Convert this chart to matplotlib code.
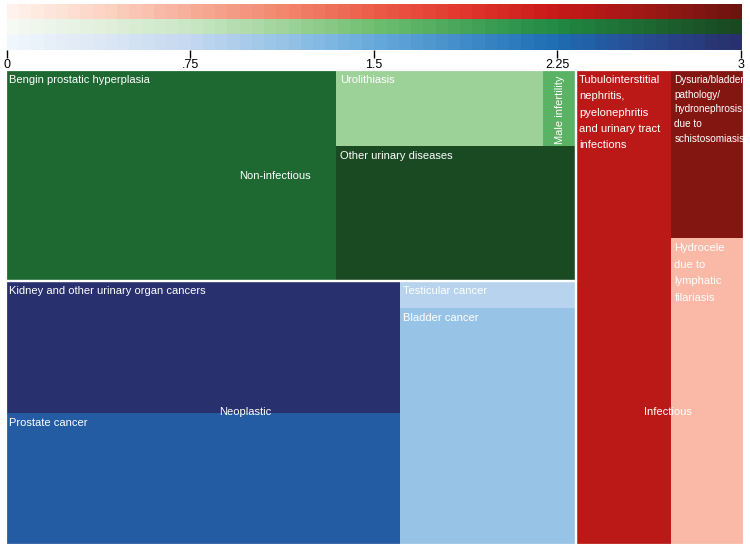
import numpy as np
import matplotlib
matplotlib.use('Agg')
import matplotlib.pyplot as plt
from matplotlib.patches import Rectangle
from matplotlib.colors import LinearSegmentedColormap

plt.rcParams['font.family'] = ['Liberation Sans Narrow', 'Liberation Sans', 'DejaVu Sans']

# leaf causes (share of burden) and colour value on the 0-3 scale
labels = ['Bengin prostatic hyperplasia', 'Urolithiasis', 'Male infertility',
          'Other urinary diseases', 'Kidney and other urinary organ cancers',
          'Prostate cancer', 'Testicular cancer', 'Bladder cancer',
          'Tubulointerstitial\nnephritis,\npyelonephritis\nand urinary tract\ninfections',
          'Dysuria/bladder\npathology/\nhydronephrosis\ndue to\nschistosomiasis',
          'Hydrocele\ndue to\nlymphatic\nfilariasis']
values = [19.9, 4.5, 0.7, 9.2, 14.8, 14.8, 1.35, 11.9, 12.9, 3.5, 6.4]
scale_vals = [2.63, 1.15, 1.69, 2.97, 3.0, 2.44, 0.85, 1.12, 2.37, 2.83, 0.63]
group_of = [0, 0, 0, 0, 1, 1, 1, 1, 2, 2, 2]

group_names = ['Non-infectious', 'Neoplastic', 'Infectious']
group_label_pos = [(0.472, 0.5), (0.42, 0.496), (0.548, 0.72)]

# nesting of the treemap: 'h' splits left-right, 'v' splits top-bottom
tree = ('h', [('v', [('h', [0, ('v', [('h', [1, 2]), 3])]),
                     ('h', [('v', [4, 5]), ('v', [6, 7])])]),
              ('h', [8, ('v', [9, 10])])])

# colour ramps (0, .375, .75, 1.125, 1.5, 1.875, 2.25, 2.625, 3)
reds = [(255, 242, 236), (252, 212, 196), (247, 172, 150), (242, 135, 110), (236, 92, 72),
        (225, 55, 45), (200, 25, 25), (160, 24, 22), (110, 20, 15)]
greens = [(245, 250, 243), (225, 240, 220), (200, 230, 195), (160, 212, 155), (112, 191, 112),
          (70, 165, 90), (33, 138, 68), (30, 105, 50), (25, 72, 33)]
blues = [(240, 246, 253), (220, 232, 245), (195, 216, 240), (150, 195, 230), (103, 170, 220),
         (65, 140, 200), (30, 110, 180), (40, 75, 145), (40, 48, 110)]


def ramp(name, cols):
    return LinearSegmentedColormap.from_list(name, [tuple(c / 255 for c in col) for col in cols])


cmaps = [ramp('g', greens), ramp('b', blues), ramp('r', reds)]


def total(node):
    if isinstance(node, int):
        return values[node]
    return sum(total(c) for c in node[1])


def layout(node, x, y, w, h, out):
    if isinstance(node, int):
        out[node] = (x, y, w, h)
        return
    d, kids = node
    tot = total(node)
    for k in kids:
        f = total(k) / tot
        if d == 'h':
            layout(k, x, y, w * f, h, out)
            x += w * f
        else:
            layout(k, x, y, w, h * f, out)
            y += h * f


rects = {}
layout(tree, 0, 0, 1, 1, rects)

fig = plt.figure(figsize=(7.5, 5.49), dpi=100)

# colour scale on top
cax = fig.add_axes([0.0093, 0.909, 0.9787, 0.0838])
steps = np.linspace(0, 1, 60)
img = np.stack([cmaps[2](steps), cmaps[0](steps), cmaps[1](steps)])
cax.imshow(img, aspect='auto', extent=[0, 3, 0, 3], interpolation='nearest')
cax.set_xticks([0, 0.75, 1.5, 2.25, 3])
cax.set_xticklabels(['0', '.75', '1.5', '2.25', '3'], fontsize=9)
cax.set_yticks([])
cax.tick_params(axis='x', direction='out', length=6, width=1, pad=0.5)
for s in cax.spines.values():
    s.set_visible(False)

ax = fig.add_axes([0.008, 0.0073, 0.984, 0.8652])
ax.set_xlim(0, 1)
ax.set_ylim(1, 0)
ax.axis('off')

for i, lab in enumerate(labels):
    x, y, w, h = rects[i]
    cmap = cmaps[group_of[i]]
    ax.add_patch(Rectangle((x, y), w, h, facecolor=cmap(scale_vals[i] / 3),
                           edgecolor='none', linewidth=0))
    if lab == 'Male infertility':
        ax.annotate(lab, (x + w / 2, y), xytext=(0, -4), textcoords='offset points',
                    rotation=90, ha='center', va='top', color='white', fontsize=8)
        continue
    fs, ls = 8, 1.8
    if lab.startswith('Dysuria'):
        fs, ls = 7.2, 1.6
    elif lab.startswith('Hydrocele'):
        ls = 1.85
    ax.annotate(lab, (x, y), xytext=(2.5, -3.5), textcoords='offset points',
                ha='left', va='top', color='white', fontsize=fs, linespacing=ls)

for g, name in enumerate(group_names):
    rs = [rects[i] for i in range(len(labels)) if group_of[i] == g]
    x0 = min(r[0] for r in rs)
    y0 = min(r[1] for r in rs)
    x1 = max(r[0] + r[2] for r in rs)
    y1 = max(r[1] + r[3] for r in rs)
    ax.add_patch(Rectangle((x0, y0), x1 - x0, y1 - y0, fill=False,
                           edgecolor='white', linewidth=1.6))
    fx, fy = group_label_pos[g]
    ax.text(x0 + fx * (x1 - x0), y0 + fy * (y1 - y0), name, ha='center', va='center',
            color='white', fontsize=8)

fig.savefig('out.png', dpi=100)
